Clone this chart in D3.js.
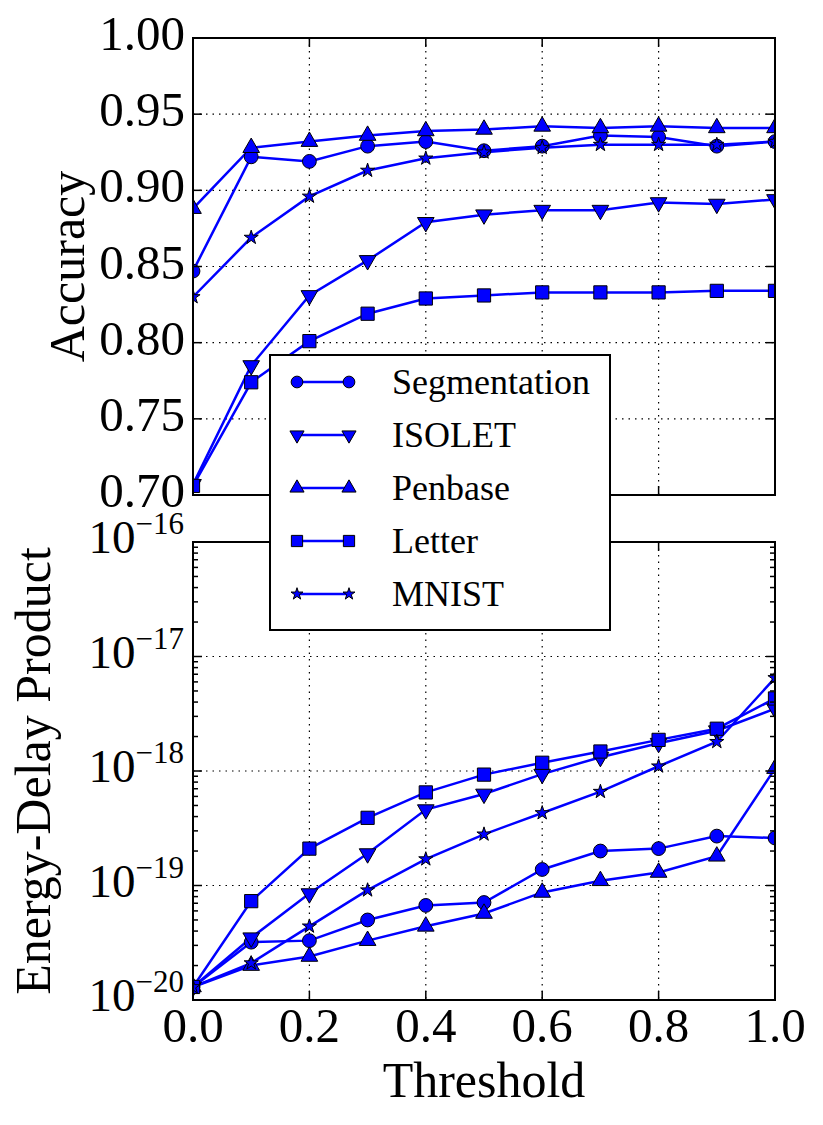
<!DOCTYPE html>
<html>
<head>
<meta charset="utf-8">
<script src="https://cdn.jsdelivr.net/npm/d3@7"></script>
<style>
  body { margin: 0; background: #fff; }
  text { font-family: "Liberation Serif", "DejaVu Serif", serif; fill: #000; }
</style>
</head>
<body>
<div id="content"></div>
<script>
const thresholds = [0, 0.1, 0.2, 0.3, 0.4, 0.5, 0.6, 0.7, 0.8, 0.9, 1.0];
const seriesNames = ["Segmentation", "ISOLET", "Penbase", "Letter", "MNIST"];
const markers = ["circle", "down", "up", "square", "star"];

// accuracy, top panel
const accSegmentation = [0.847, 0.922, 0.919, 0.929, 0.932, 0.926, 0.929, 0.936, 0.935, 0.929, 0.932];
const accIsolet       = [0.707, 0.785, 0.831, 0.854, 0.879, 0.884, 0.887, 0.887, 0.892, 0.891, 0.894];
const accPenbase      = [0.888, 0.928, 0.932, 0.936, 0.939, 0.940, 0.942, 0.941, 0.942, 0.941, 0.941];
const accLetter       = [0.706, 0.774, 0.801, 0.819, 0.829, 0.831, 0.833, 0.833, 0.833, 0.834, 0.834];
const accMnist        = [0.830, 0.869, 0.896, 0.913, 0.921, 0.925, 0.928, 0.930, 0.930, 0.930, 0.932];

// energy-delay product, bottom panel
const edpSegmentation = [1.3e-20, 3.2e-20, 3.3e-20, 5.0e-20, 6.7e-20, 7.1e-20, 1.38e-19, 2.0e-19, 2.1e-19, 2.7e-19, 2.6e-19];
const edpIsolet       = [1.3e-20, 3.5e-20, 8.5e-20, 1.9e-19, 4.6e-19, 6.3e-19, 9.4e-19, 1.32e-18, 1.75e-18, 2.25e-18, 3.5e-18];
const edpPenbase      = [1.3e-20, 2.0e-20, 2.4e-20, 3.3e-20, 4.4e-20, 5.7e-20, 8.7e-20, 1.1e-19, 1.3e-19, 1.8e-19, 1.05e-18];
const edpLetter       = [1.3e-20, 7.3e-20, 2.1e-19, 3.9e-19, 6.5e-19, 9.3e-19, 1.18e-18, 1.48e-18, 1.87e-18, 2.34e-18, 4.3e-18];
const edpMnist        = [1.3e-20, 2.1e-20, 4.4e-20, 9.1e-20, 1.7e-19, 2.8e-19, 4.3e-19, 6.6e-19, 1.1e-18, 1.8e-18, 6.5e-18];

const xTicks = [0, 0.2, 0.4, 0.6, 0.8, 1.0];
const accTicks = [0.70, 0.75, 0.80, 0.85, 0.90, 0.95, 1.00];
const edpExps = [-20, -19, -18, -17, -16];

const accData = [accSegmentation, accIsolet, accPenbase, accLetter, accMnist];
const edpData = [edpSegmentation, edpIsolet, edpPenbase, edpLetter, edpMnist];

const W = 823, H = 1125;
const left = 193, right = 775;
const top1 = 38, bot1 = 495, top2 = 542, bot2 = 1000;
const blue = "#0000ff";
const fs = 49;

const svg = d3.select("#content").append("svg").attr("width", W).attr("height", H);

const x = d3.scaleLinear().domain([0, 1]).range([left, right]);
const yAcc = d3.scaleLinear().domain([0.70, 1.00]).range([bot1, top1]);
const yEdp = d3.scaleLog().domain([1e-20, 1e-16]).range([bot2, top2]);

function symbolPath(kind, s) {
  if (kind === "circle") return d3.symbol(d3.symbolCircle, 150 * s)();
  if (kind === "square") return d3.symbol(d3.symbolSquare, 175 * s)();
  if (kind === "star") return d3.symbol(d3.symbolStar, 62 * s)();
  return d3.symbol(d3.symbolTriangle, 120 * s)();
}
function symbolRot(kind) { return kind === "down" ? " rotate(180)" : ""; }

function gridLines(g, xs, ys, yTop, yBot) {
  const grid = g.append("g").attr("stroke", "#000").attr("stroke-width", 1.2).attr("stroke-dasharray", "1.5,5");
  xs.forEach(v => grid.append("line").attr("x1", v).attr("x2", v).attr("y1", yTop).attr("y2", yBot));
  ys.forEach(v => grid.append("line").attr("x1", left).attr("x2", right).attr("y1", v).attr("y2", v));
}

function drawSeries(clipId, y, data, yTop, yBot) {
  svg.append("clipPath").attr("id", clipId).append("rect")
    .attr("x", left).attr("y", yTop).attr("width", right - left).attr("height", yBot - yTop);
  const plot = svg.append("g").attr("clip-path", `url(#${clipId})`);
  const line = d3.line().x((d, i) => x(thresholds[i])).y(d => y(d));
  data.forEach(vals => {
    plot.append("path").attr("d", line(vals)).attr("fill", "none")
      .attr("stroke", blue).attr("stroke-width", 2.5);
  });
  data.forEach((vals, k) => {
    plot.selectAll(null).data(vals).enter().append("path")
      .attr("d", symbolPath(markers[k], 1))
      .attr("transform", (d, i) => `translate(${x(thresholds[i])},${y(d)})` + symbolRot(markers[k]))
      .attr("fill", blue).attr("stroke", "#000").attr("stroke-width", 1);
  });
}

const xPix = xTicks.map(x);
gridLines(svg, xPix.slice(1, -1), accTicks.slice(1, -1).map(yAcc), top1, bot1);
gridLines(svg, xPix.slice(1, -1), edpExps.slice(1, -1).map(e => yEdp(Math.pow(10, e))), top2, bot2);
drawSeries("clip1", yAcc, accData, top1, bot1);
drawSeries("clip2", yEdp, edpData, top2, bot2);

// ---- ticks and frames
function tickMarks(yTop, yBot, xs, ys, ysMinor) {
  const t = svg.append("g").attr("stroke", "#000").attr("stroke-width", 1.5);
  xs.forEach(v => {
    t.append("line").attr("x1", v).attr("x2", v).attr("y1", yBot).attr("y2", yBot - 9);
    t.append("line").attr("x1", v).attr("x2", v).attr("y1", yTop).attr("y2", yTop + 9);
  });
  ys.forEach(v => {
    t.append("line").attr("x1", left).attr("x2", left + 9).attr("y1", v).attr("y2", v);
    t.append("line").attr("x1", right).attr("x2", right - 9).attr("y1", v).attr("y2", v);
  });
  (ysMinor || []).forEach(v => {
    t.append("line").attr("x1", left).attr("x2", left + 5).attr("y1", v).attr("y2", v);
    t.append("line").attr("x1", right).attr("x2", right - 5).attr("y1", v).attr("y2", v);
  });
  svg.append("rect").attr("x", left).attr("y", yTop).attr("width", right - left).attr("height", yBot - yTop)
    .attr("fill", "none").attr("stroke", "#000").attr("stroke-width", 2);
}

tickMarks(top1, bot1, xPix, accTicks.map(yAcc));
const minor = [];
edpExps.slice(0, -1).forEach(e => { for (let m = 2; m <= 9; m++) minor.push(yEdp(m * Math.pow(10, e))); });
tickMarks(top2, bot2, xPix, edpExps.map(e => yEdp(Math.pow(10, e))), minor);

// tick labels
svg.append("g").selectAll("text").data(accTicks).enter().append("text")
  .attr("x", left - 8).attr("y", d => yAcc(d) + 12)
  .attr("text-anchor", "end").attr("font-size", fs).text(d => d.toFixed(2));

const expLabels = svg.append("g").selectAll("text").data(edpExps).enter().append("text")
  .attr("x", left - 9).attr("y", d => yEdp(Math.pow(10, d)) + 11)
  .attr("text-anchor", "end").attr("font-size", 47);
expLabels.append("tspan").text("10");
expLabels.append("tspan").attr("dy", -19).attr("font-size", 31).text(d => "\u2212" + Math.abs(d));

svg.append("g").selectAll("text").data(xTicks).enter().append("text")
  .attr("x", d => x(d)).attr("y", bot2 + 42).attr("text-anchor", "middle")
  .attr("font-size", fs).text(d => d.toFixed(1));

// axis titles
svg.append("text").attr("transform", `translate(84,${(top1 + bot1) / 2}) rotate(-90)`)
  .attr("text-anchor", "middle").attr("font-size", 50).text("Accuracy");
svg.append("text").attr("transform", `translate(50,${(top2 + bot2) / 2}) rotate(-90)`)
  .attr("text-anchor", "middle").attr("font-size", 50).text("Energy-Delay Product");
svg.append("text").attr("x", (left + right) / 2).attr("y", bot2 + 97)
  .attr("text-anchor", "middle").attr("font-size", 50).text("Threshold");

// legend
const lg = svg.append("g").attr("id", "legend");
lg.append("rect").attr("x", 270).attr("y", 355).attr("width", 340).attr("height", 275)
  .attr("fill", "#fff").attr("stroke", "#000").attr("stroke-width", 2);
seriesNames.forEach((name, k) => {
  const yy = 382 + k * 53;
  lg.append("line").attr("x1", 297).attr("x2", 349).attr("y1", yy).attr("y2", yy)
    .attr("stroke", blue).attr("stroke-width", 2.5);
  [297, 349].forEach(px => {
    lg.append("path").attr("d", symbolPath(markers[k], 0.72))
      .attr("transform", `translate(${px},${yy})` + symbolRot(markers[k]))
      .attr("fill", blue).attr("stroke", "#000").attr("stroke-width", 1);
  });
  lg.append("text").attr("x", 392).attr("y", yy + 12)
    .attr("font-size", 36).text(name);
});
</script>
</body>
</html>
